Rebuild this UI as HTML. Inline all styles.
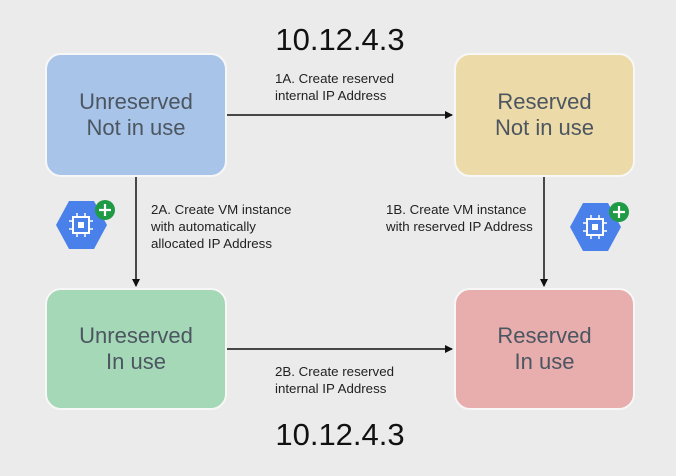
<!DOCTYPE html>
<html><head><style>
body{margin:0;width:676px;height:476px;background:#ebebeb;font-family:"Liberation Sans",sans-serif;position:relative;overflow:hidden}
.b{position:absolute;border:2px solid #f7f7f7;border-radius:16px;box-sizing:border-box;display:flex;align-items:center;justify-content:center;text-align:center;color:#4c5661;font-size:22px;line-height:26px}
.t{position:absolute;font-size:31px;color:#111;left:0;width:676px;text-align:center}
.l{position:absolute;font-size:13.3px;line-height:17px;color:#222}
</style></head><body>
<div class="t" style="top:22px;left:2px">10.12.4.3</div>
<div class="t" style="top:417px;left:2px">10.12.4.3</div>
<div class="b" style="left:45px;top:53px;width:182px;height:124px;background:#a9c4e9">Unreserved<br>Not in use</div>
<div class="b" style="left:454px;top:53px;width:181px;height:124px;background:#ecdaa8">Reserved<br>Not in use</div>
<div class="b" style="left:45px;top:288px;width:182px;height:122px;background:#a4d8b7">Unreserved<br>In use</div>
<div class="b" style="left:454px;top:288px;width:181px;height:122px;background:#e8adad">Reserved<br>In use</div>
<svg width="676" height="476" style="position:absolute;left:0;top:0">
<defs><marker id="a" markerWidth="8" markerHeight="8" refX="7" refY="4" orient="auto" markerUnits="userSpaceOnUse"><path d="M0,0 L8,4 L0,8z" fill="#111"/></marker></defs>
<g stroke="#111" stroke-width="1.5">
<line x1="227" y1="115" x2="452" y2="115" marker-end="url(#a)"/>
<line x1="227" y1="349" x2="452" y2="349" marker-end="url(#a)"/>
<line x1="136" y1="177" x2="136" y2="286" marker-end="url(#a)"/>
<line x1="544" y1="177" x2="544" y2="286" marker-end="url(#a)"/>
</g>
<g id="ic">
<polygon points="56,225 69,201 94,201 107,225 94,249 69,249" fill="#4a80ea"/>
<rect x="73" y="217" width="16" height="16" fill="none" stroke="#fff" stroke-width="2"/>
<rect x="78" y="222" width="6" height="6" fill="#fff"/>
<g stroke="#fff" stroke-width="1.5"><line x1="77" y1="213" x2="77" y2="217"/><line x1="85" y1="213" x2="85" y2="217"/><line x1="77" y1="233" x2="77" y2="237"/><line x1="85" y1="233" x2="85" y2="237"/><line x1="69" y1="221" x2="73" y2="221"/><line x1="69" y1="229" x2="73" y2="229"/><line x1="89" y1="221" x2="93" y2="221"/><line x1="89" y1="229" x2="93" y2="229"/></g>
<circle cx="105" cy="210" r="10" fill="#1f9a45"/>
<path d="M105,204v12M99,210h12" stroke="#fff" stroke-width="2.2"/>
</g>
<use href="#ic" x="514" y="2"/>
</svg>
<div class="l" style="left:275px;top:70px">1A. Create reserved<br>internal IP Address</div>
<div class="l" style="left:151px;top:201px">2A. Create VM instance<br>with automatically<br>allocated IP Address</div>
<div class="l" style="left:386px;top:201px">1B. Create VM instance<br>with reserved IP Address</div>
<div class="l" style="left:275px;top:363px">2B. Create reserved<br>internal IP Address</div>
</body></html>
